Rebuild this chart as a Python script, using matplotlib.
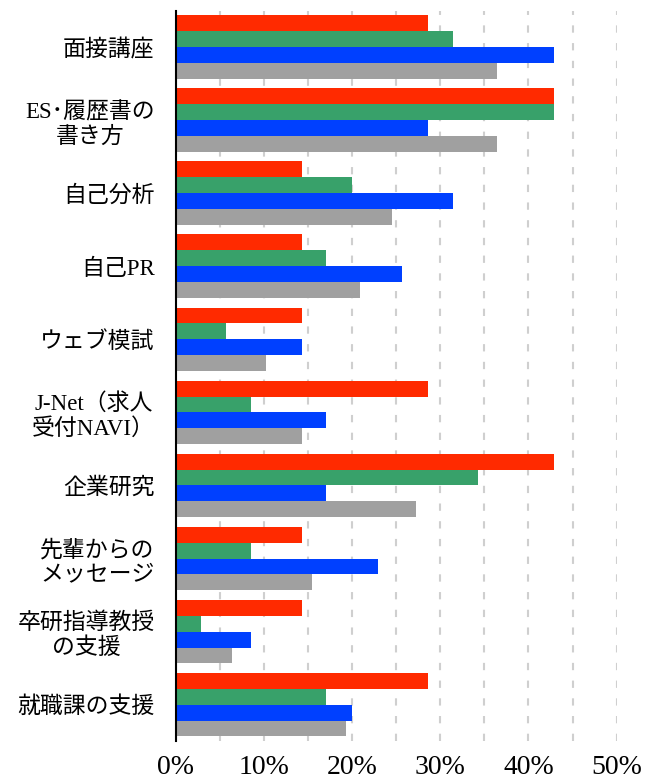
import matplotlib
matplotlib.use('Agg')
import matplotlib.pyplot as plt
import numpy as np

categories = ['面接講座', 'ES･履歴書の\n書き方', '自己分析', '自己PR', 'ウェブ模試',
              'J-Net（求人\n受付NAVI）', '企業研究', '先輩からの\nメッセージ',
              '卒研指導教授\nの支援', '就職課の支援']
red = [28.6, 42.9, 14.3, 14.3, 14.3, 28.6, 42.9, 14.3, 14.3, 28.6]
green = [31.4, 42.9, 20.0, 17.1, 5.7, 8.6, 34.3, 8.6, 2.9, 17.1]
blue = [42.9, 28.6, 31.4, 25.7, 14.3, 17.1, 17.1, 22.9, 8.6, 20.0]
gray = [36.4, 36.4, 24.5, 20.9, 10.3, 14.3, 27.3, 15.5, 6.4, 19.3]
xticks = [0, 10, 20, 30, 40, 50]

fig = plt.figure(figsize=(6.46, 7.82), dpi=100)
ax = fig.add_axes([0.2717, 0.0524, 0.9546 - 0.2717, 0.986 - 0.0524])

y = np.arange(len(categories))
h = 0.219
series = [(red, '#FF2A00'), (green, '#38A16A'), (blue, '#0040FF'), (gray, '#A0A0A0')]
for i, (vals, c) in enumerate(series):
    ax.barh(y + (i - 1.5) * h, np.array(vals) / 100, height=h, color=c, zorder=2)

ax.set_ylim(len(categories) - 0.5, -0.5)
ax.set_xlim(0, 0.5)
ax.set_xticks([v / 100 for v in xticks])
ax.set_xticklabels(['%d%%' % v for v in xticks], family='Liberation Serif', fontsize=20)
ax.set_xticks(np.arange(0.05, 0.51, 0.1), minor=True)
ax.grid(axis='x', which='both', color='#CFCFCF', linestyle=(0, (3.5, 5)), linewidth=1.5, zorder=0)
ax.set_yticks(y)
ax.set_yticklabels(categories, family=['Liberation Serif', 'Noto Sans CJK JP'], fontsize=16.5)
for t in ax.get_yticklabels():
    t.set_multialignment('center')
ax.tick_params(axis='both', which='both', length=0)
ax.tick_params(axis='y', pad=15)
ax.tick_params(axis='x', pad=10)
for s in ['top', 'right', 'bottom']:
    ax.spines[s].set_visible(False)
ax.spines['left'].set_linewidth(1.5)
ax.spines['left'].set_zorder(3)

fig.savefig('out.png', dpi=100)
